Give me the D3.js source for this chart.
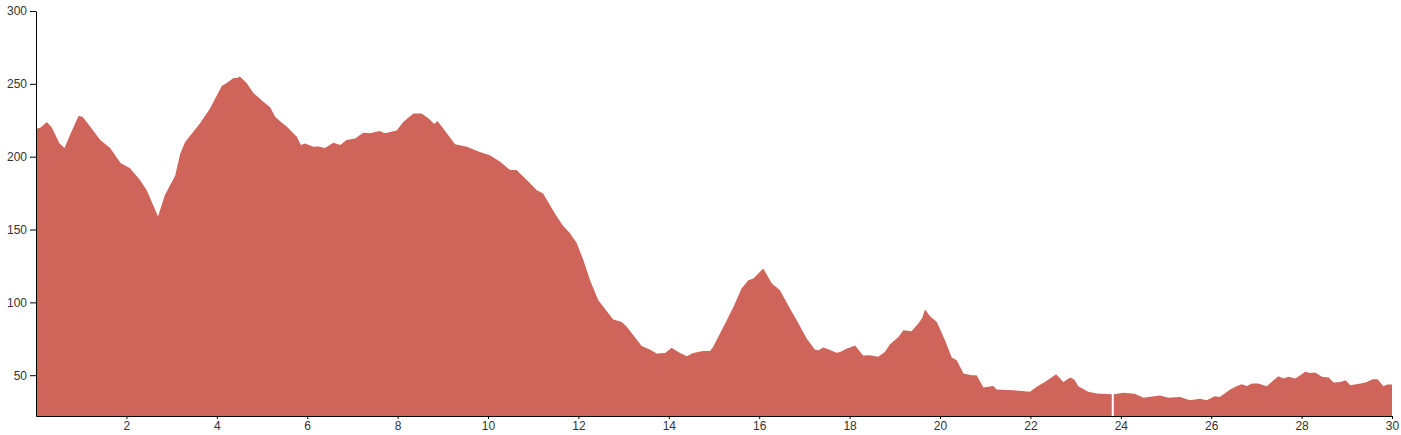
<!DOCTYPE html>
<html>
<head>
<meta charset="utf-8">
<script src="https://cdn.jsdelivr.net/npm/d3@7"></script>
<style>
  html, body { margin: 0; padding: 0; background: #fff; }
  .axis text { font-family: "Liberation Sans", Arial, sans-serif; font-size: 12px; fill: #333; }
  .axis path, .axis line { stroke: #000; }
</style>
</head>
<body>
<svg id="chart" width="1401" height="435"></svg>
<script>
const distance = [0.00,0.10,0.24,0.35,0.52,0.63,0.77,0.94,1.03,1.19,1.42,1.64,1.87,2.08,2.30,2.45,2.59,2.70,2.85,3.08,3.19,3.30,3.63,3.85,4.11,4.22,4.37,4.45,4.51,4.66,4.81,5.03,5.18,5.29,5.40,5.55,5.77,5.86,5.95,6.14,6.25,6.39,6.58,6.73,6.87,7.06,7.24,7.39,7.60,7.72,7.98,8.13,8.35,8.53,8.68,8.81,8.88,9.01,9.27,9.53,9.82,10.04,10.27,10.49,10.63,10.86,11.08,11.22,11.48,11.65,11.80,11.96,12.11,12.26,12.44,12.77,12.96,13.07,13.40,13.58,13.73,13.92,14.06,14.21,14.40,14.54,14.76,14.91,14.98,15.21,15.43,15.61,15.76,15.87,16.09,16.28,16.46,16.68,16.83,17.05,17.23,17.31,17.42,17.53,17.71,17.79,17.94,18.01,18.12,18.30,18.45,18.63,18.78,18.89,19.08,19.19,19.37,19.52,19.60,19.67,19.78,19.93,20.11,20.26,20.37,20.52,20.70,20.81,20.96,21.18,21.25,21.62,21.99,22.14,22.32,22.57,22.73,22.88,22.97,23.06,23.28,23.47,23.80,23.81,23.845,24.06,24.31,24.50,24.87,25.05,25.31,25.53,25.64,25.75,25.90,26.08,26.19,26.42,26.56,26.67,26.79,26.90,27.04,27.23,27.38,27.49,27.60,27.71,27.86,27.97,28.08,28.19,28.30,28.45,28.60,28.71,28.86,28.97,29.08,29.31,29.45,29.57,29.68,29.81,29.90,30.00];
const elevation = [219,220,223.8,220,209,206,216,228,227.4,221,211.4,206,195.6,192,184,177,166.8,159,173.6,187,202,210,223,233,248.5,250.5,254,254,255,250.5,243.7,237.7,234,227.4,224.3,220.5,213.7,208,209,206.8,207,206,209.5,208,211.4,212.5,216.4,216,217.6,216,218,224,229.7,229.7,226.3,222.4,224.5,219.4,208.6,206.8,203.3,201,196.5,190.8,190.8,184,177,174.8,161,153,148,141,129,115,101.5,88.2,86.6,83.2,70,67.6,64.9,65.3,68.8,66,63,65.3,66.7,66.7,69.4,83.2,96.9,109.5,115.2,116.4,123.3,113,108.4,95.8,87.8,75.2,67.6,67.2,69,67.9,65.5,66,68.3,69,70.4,63.5,63.7,62.6,66,71,76.3,80.9,80.2,85.5,88.9,95.1,90.5,86.6,74,62.1,60.3,51.1,50,50,41.5,42.6,40.2,39.7,38.6,42,45.4,50.7,45.4,48.4,47,42.4,38.6,37.4,37,null,37,37.9,37.2,34.6,36,34.6,35.1,32.8,33.3,33.9,32.8,35.6,35.1,40.2,42.4,43.8,42.6,44.3,44.3,42.4,46.6,49.3,47.7,48.9,47.7,50,52.3,51.6,51.8,48.9,48.4,45,45.4,46.6,43.1,44.3,45.4,47.3,47.3,42.4,43.6,43.6];
const xTicks = [2,4,6,8,10,12,14,16,18,20,22,24,26,28,30];
const yTicks = [50,100,150,200,250,300];

const margin = {top: 11, right: 9, bottom: 19, left: 36};
const W = 1401, H = 435;
const svg = d3.select("#chart");
const x = d3.scaleLinear().domain([0, 30]).range([margin.left, W - margin.right]);
const y = d3.scaleLinear().domain([22, 300]).range([H - margin.bottom, margin.top]);

const data = distance.map((d, i) => ({d, e: elevation[i]}));
const area = d3.area()
  .defined(p => p.e !== null)
  .x(p => x(p.d))
  .y0(y(22))
  .y1(p => y(p.e));

svg.append("path")
  .datum(data)
  .attr("fill", "#cf645a")
  .attr("d", area);

svg.append("g")
  .attr("class", "axis")
  .attr("transform", `translate(0,${H - margin.bottom})`)
  .call(d3.axisBottom(x).tickValues(xTicks).tickFormat(d3.format("d"))
    .tickSizeInner(3).tickSizeOuter(0).tickPadding(2));

svg.append("g")
  .attr("class", "axis")
  .attr("transform", `translate(${margin.left},0)`)
  .call(d3.axisLeft(y).tickValues(yTicks).tickFormat(d3.format("d"))
    .tickSizeInner(6).tickSizeOuter(0).tickPadding(3));
</script>
</body>
</html>
